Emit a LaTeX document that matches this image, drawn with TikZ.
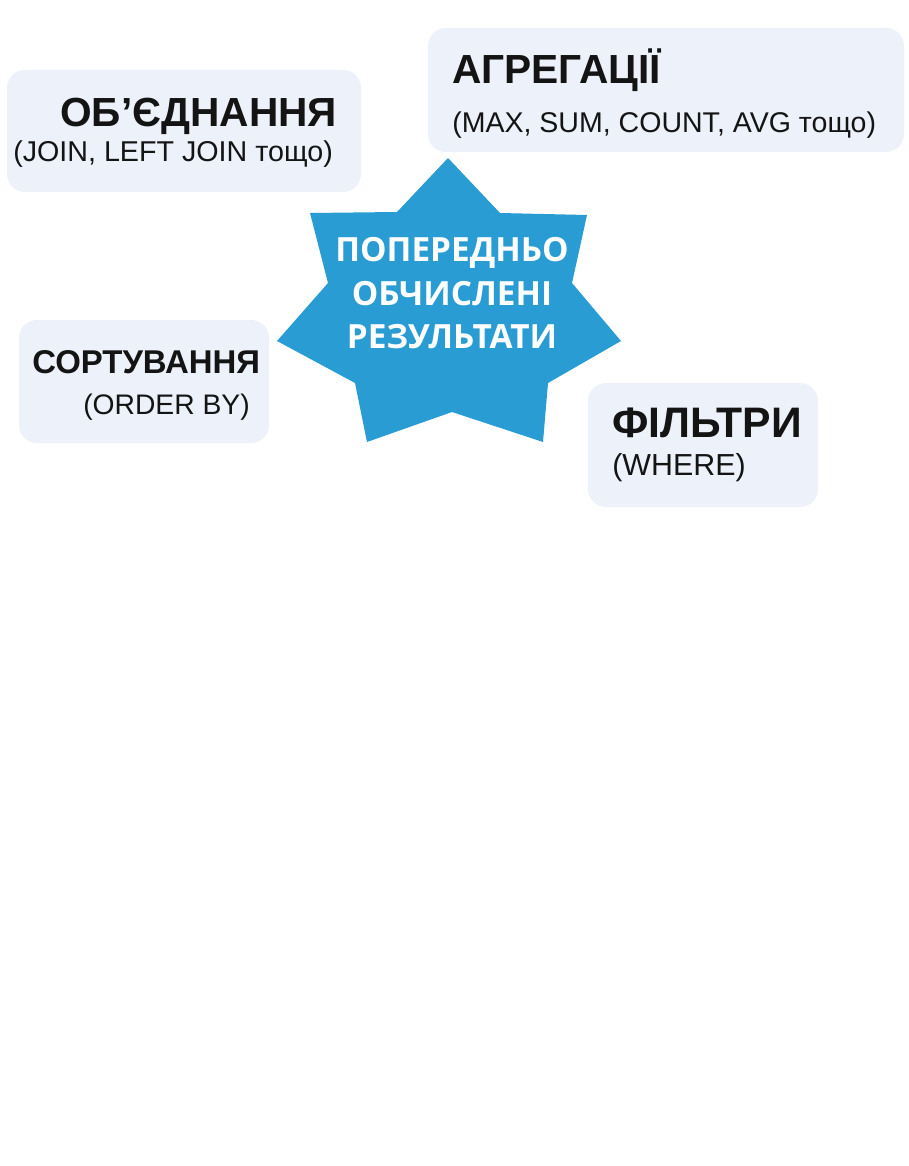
\documentclass[tikz,border=0pt]{standalone}
\usepackage{fontspec}
\setmainfont{Liberation Sans}
\newfontfamily\starfont{Open Sans}
\definecolor{boxfill}{RGB}{237,242,250}
\definecolor{starblue}{RGB}{41,156,212}
\definecolor{txt}{RGB}{20,20,20}
\tikzset{
  boxshape/.style={fill=boxfill, rounded corners=13.5pt},
  titletxt/.style={anchor=base west, inner sep=0pt, text=txt, font=\bfseries},
  subtxt/.style={anchor=base west, inner sep=0pt, text=txt},
  startxt/.style={anchor=base, inner sep=0pt, text=white, font=\starfont\bfseries\fontsize{25}{29}\selectfont},
}
\begin{document}
\begin{tikzpicture}[x=0.75pt,y=-0.75pt]
\useasboundingbox[fill=white] (0,0) rectangle (908,1166);
% boxes
\path[boxshape] (7,70) rectangle (361,192);
\path[boxshape] (428,28) rectangle (904,152);
\path[boxshape] (19,320) rectangle (269,443);
\path[boxshape] (588,383) rectangle (818,507);
% star
\fill[starblue] (448,158) -- (500,213) -- (587,215) -- (572,283) -- (621,341) -- (548,383) -- (543,442) -- (452,412) -- (367,442) -- (355,383) -- (277,341) -- (328,283) -- (310,213) -- (397,212) -- cycle;
\node[startxt] (s1) at (452,262) {ПОПЕРЕДНЬО};
\node[startxt] (s2) at (452,305) {ОБЧИСЛЕНІ};
\node[startxt] (s3) at (452,348) {РЕЗУЛЬТАТИ};
% box 1
\node[titletxt, font=\bfseries\fontsize{30.5}{35}\selectfont] (t1) at (60,127) {ОБ’ЄДНАННЯ};
\node[subtxt, font=\fontsize{21.5}{25}\selectfont] (u1) at (13,162) {(JOIN, LEFT JOIN тощо)};
% box 2
\node[titletxt, font=\bfseries\fontsize{30.5}{35}\selectfont] (t2) at (452,84) {АГРЕГАЦІЇ};
\node[subtxt, font=\fontsize{21.4}{25}\selectfont] (u2) at (452,133) {(MAX, SUM, COUNT, AVG тощо)};
% box 3
\node[titletxt, font=\bfseries\fontsize{24.7}{29}\selectfont] (t3) at (32,373) {СОРТУВАННЯ};
\node[subtxt, font=\fontsize{21.2}{25}\selectfont] (u3) at (83,414) {(ORDER BY)};
% box 4
\node[titletxt, font=\bfseries\fontsize{32}{37}\selectfont] (t4) at (612,437) {ФІЛЬТРИ};
\node[subtxt, font=\fontsize{22.8}{27}\selectfont] (u4) at (612,475) {(WHERE)};
\end{tikzpicture}
\end{document}
